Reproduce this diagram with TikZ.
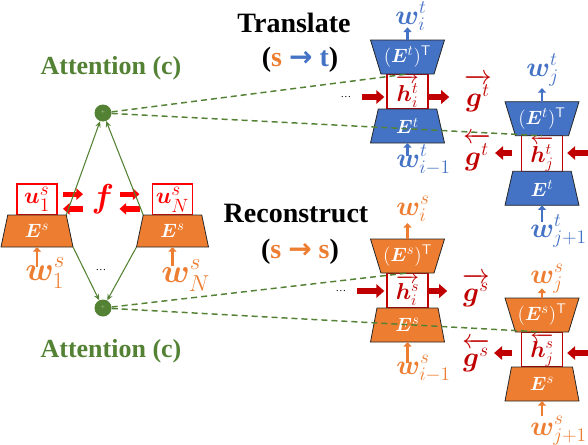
\documentclass[tikz,border=0pt]{standalone}
\usepackage{amsmath}
\usepackage{bm}
\usepackage{fontspec}
\setmainfont{Liberation Serif}
\newfontfamily\arrowfont{DejaVu Sans}
\usepackage{tikz}
\usetikzlibrary{arrows.meta,positioning,shapes.geometric}

\definecolor{tblue}{HTML}{4472C4}
\definecolor{sorange}{HTML}{ED7D31}
\definecolor{attgreen}{HTML}{548235}
\definecolor{hred}{HTML}{C00000}
\definecolor{ured}{HTML}{FF0000}

\newcommand{\setfs}[1]{\fontsize{#1}{#1}\selectfont}
\newcommand{\trlbl}[1]{\makebox[0pt]{#1}}

\begin{document}
\begin{tikzpicture}[x=0.75pt, y=-0.75pt,
    lbl/.style={inner sep=0pt},
    ttl/.style={inner sep=0pt, font=\setfs{21}\bfseries},
    att/.style={inner sep=0pt, font=\setfs{19.5}\bfseries, text=attgreen},
    wlbl/.style={inner sep=0pt, anchor=base west, font=\setfs{21}},
    glbl/.style={inner sep=0pt, text=hred, font=\setfs{22}},
    hbox/.style={draw=hred, line width=1.1pt, fill=white, minimum width=30.75pt,
      minimum height=26.25pt, inner sep=0pt, outer sep=0pt, text=hred, font=\setfs{17}},
    ubox/.style={draw=ured, line width=1.1pt, fill=white, minimum width=30pt,
      minimum height=23.25pt, inner sep=0pt, outer sep=0pt, text=ured, font=\setfs{19}},
    enc/.style={trapezium, trapezium stretches body, trapezium angle=64,
      minimum width=55.5pt, minimum height=25.5pt, draw=black!85, line width=0.6pt,
      inner sep=0pt, outer sep=0pt, text=white, font=\setfs{15}},
    dec/.style={enc, trapezium angle=116},
    encs/.style={enc, trapezium angle=63, minimum width=54pt, minimum height=24pt, fill=sorange},
    circ/.style={circle, fill=attgreen, minimum size=12.75pt, inner sep=0pt,
      text=attgreen!40!white, font=\tiny},
    attarr/.style={attgreen, line width=0.8pt, -{Stealth[length=4.5pt,width=4pt]}},
    attdash/.style={attgreen, line width=1.1pt, dash pattern=on 4.5pt off 3pt},
    darr/.style={hred, line width=5pt, -{Triangle[length=6pt,width=10pt]}},
    uarr/.style={ured, line width=4pt, -{Triangle[length=5pt,width=8.5pt]}},
    warr/.style={line width=2.2pt, -{Triangle[length=3.5pt,width=6pt]}}]
\useasboundingbox (0,0) rectangle (588,444);

% titles
\node[ttl, anchor=base] (trans) at (294,32) {Translate};
\node[ttl, anchor=base] (transdir) at (300,66) {(\textcolor{sorange}{s} {\arrowfont\bfseries\textcolor{tblue}{→}} \textcolor{tblue}{t})};
\node[ttl, anchor=base] (recon) at (296,222) {Reconstruct};
\node[ttl, anchor=base] (recondir) at (300,258) {(\textcolor{sorange}{s} {\arrowfont\bfseries\textcolor{sorange}{→}} \textcolor{sorange}{s})};
\node[att, anchor=base] (atttop) at (111,74) {Attention (c)};
\node[att, anchor=base] (attbot) at (111,357) {Attention (c)};

% source side
\node[ubox] (u1) at (37,199.5) {$\bm{u}^{s}_{1}$};
\node[encs, below=0pt of u1] (e1) {\trlbl{$\bm{E}^{s}$}};
\node[ubox] (uN) at (172.5,199.5) {$\bm{u}^{s}_{N}$};
\node[encs, below=0pt of uN] (eN) {\trlbl{$\bm{E}^{s}$}};
\node[lbl, text=ured, font=\setfs{23}] (f) at (103,199) {$\bm{f}$};
\node[wlbl, text=sorange, font=\setfs{23}] (w1) at (25,280) {$\bm{w}^{s}_{1}$};
\node[wlbl, text=sorange, font=\setfs{23}] (wN) at (161,282) {$\bm{w}^{s}_{N}$};
\node[lbl, font=\setfs{8}] (dl) at (101,270) {\ldots};
\node[circ] (c1) at (103,113) {+};
\node[circ] (c2) at (103,308) {+};

\draw[uarr] ([xshift=4.5pt,yshift=4pt]u1.east) -- ++(15pt,0);
\draw[uarr] ([xshift=19.5pt,yshift=-7pt]u1.east) -- ++(-15pt,0);
\draw[uarr] ([xshift=-24.75pt,yshift=4pt]uN.west) -- ++(15pt,0);
\draw[uarr] ([xshift=-9.75pt,yshift=-7pt]uN.west) -- ++(-15pt,0);

% translate decoder, step i
\node[hbox] (hit) at (407.5,91.5) {$\overrightarrow{\bm{h}^{t}_{i}}$};
\node[dec, fill=tblue, above=0pt of hit] (dit) {\trlbl{$(\bm{E}^{t})^{\mathsf{T}}$}};
\node[enc, fill=tblue, below=0pt of hit] (eit) {\trlbl{$\bm{E}^{t}$}};
\node[wlbl, text=tblue] (wit) at (395,24) {$\bm{w}^{t}_{i}$};
\node[wlbl, text=tblue] (wi1t) at (396,167) {$\bm{w}^{t}_{i-1}$};
\node[lbl, font=\setfs{8}] (dt) at (346,97) {\ldots};
\node[glbl] (gtr) at (478,93) {$\overrightarrow{\bm{g}^{t}}$};

% translate decoder, step j
\node[hbox] (hjt) at (542,153.5) {$\overleftarrow{\bm{h}^{t}_{j}}$};
\node[dec, fill=tblue, above=0pt of hjt] (djt) {\trlbl{$(\bm{E}^{t})^{\mathsf{T}}$}};
\node[enc, fill=tblue, below=0pt of hjt] (ejt) {\trlbl{$\bm{E}^{t}$}};
\node[wlbl, text=tblue] (wjt) at (526,76) {$\bm{w}^{t}_{j}$};
\node[wlbl, text=tblue] (wj1t) at (530,237) {$\bm{w}^{t}_{j+1}$};
\node[glbl] (gtl) at (477,152) {$\overleftarrow{\bm{g}^{t}}$};
\coordinate (injt) at (588,153);

% reconstruct decoder, step i
\node[hbox] (his) at (407.5,290.5) {$\overrightarrow{\bm{h}^{s}_{i}}$};
\node[dec, fill=sorange, above=0pt of his] (dis) {\trlbl{$(\bm{E}^{s})^{\mathsf{T}}$}};
\node[enc, fill=sorange, below=0pt of his] (eis) {\trlbl{$\bm{E}^{s}$}};
\node[wlbl, text=sorange] (wis) at (396,215) {$\bm{w}^{s}_{i}$};
\node[wlbl, text=sorange] (wi1s) at (396,374) {$\bm{w}^{s}_{i-1}$};
\node[lbl, font=\setfs{8}] (ds) at (341,291) {\ldots};
\node[glbl] (gsr) at (476,290) {$\overrightarrow{\bm{g}^{s}}$};

% reconstruct decoder, step j
\node[hbox] (hjs) at (542,349.5) {$\overleftarrow{\bm{h}^{s}_{j}}$};
\node[dec, fill=sorange, above=0pt of hjs] (djs) {\trlbl{$(\bm{E}^{s})^{\mathsf{T}}$}};
\node[enc, fill=sorange, below=0pt of hjs] (ejs) {\trlbl{$\bm{E}^{s}$}};
\node[wlbl, text=sorange] (wjs) at (530,283) {$\bm{w}^{s}_{j}$};
\node[wlbl, text=sorange] (wj1s) at (530,435) {$\bm{w}^{s}_{j+1}$};
\node[glbl] (gsl) at (476,355) {$\overleftarrow{\bm{g}^{s}}$};
\coordinate (injs) at (588,353);

% word arrows
\draw[warr, sorange] ([yshift=10pt]w1.base -| e1.south) -- (e1.south);
\draw[warr, sorange] ([yshift=12pt]wN.base -| eN.south) -- (eN.south);
\draw[warr, tblue] (dit.north) -- ([yshift=-2.5pt]wit.base -| dit.north);
\draw[warr, tblue] ([yshift=8pt]wi1t.base -| eit.south) -- (eit.south);
\draw[warr, tblue] (djt.north) -- ([yshift=-9pt]wjt.base -| djt.north);
\draw[warr, tblue] ([yshift=11pt]wj1t.base -| ejt.south) -- (ejt.south);
\draw[warr, sorange] (dis.north) -- ([yshift=-6pt]wis.base -| dis.north);
\draw[warr, sorange] ([yshift=8pt]wi1s.base -| eis.south) -- (eis.south);
\draw[warr, sorange] (djs.north) -- ([yshift=-4pt]wjs.base -| djs.north);
\draw[warr, sorange] ([yshift=14pt]wj1s.base -| ejs.south) -- (ejs.south);

% hidden state arrows
\draw[darr, shorten <=8pt, shorten >=2pt] (dt) -- (dt -| hit.west);
\draw[darr, shorten <=1pt, shorten >=11pt] (hit.east |- dt) -- (gtr.west |- dt);
\draw[darr, shorten >=3.5pt] (injt) -- (injt -| hjt.east);
\draw[darr, shorten <=7pt, shorten >=3pt] (hjt.west |- injt) -- (gtl.east |- injt);
\draw[darr, shorten <=8pt, shorten >=2pt] (ds) -- (ds -| his.west);
\draw[darr, shorten <=1pt, shorten >=11pt] (his.east |- ds) -- (gsr.west |- ds);
\draw[darr, shorten >=3.5pt] (injs) -- (injs -| hjs.east);
\draw[darr, shorten <=7pt, shorten >=3pt] (hjs.west |- injs) -- (gsl.east |- injs);

% attention
\draw[attarr] (e1.top right corner) -- (c1);
\draw[attarr] (eN.top left corner) -- (c1);
\draw[attarr] (e1.bottom right corner) -- (c2);
\draw[attarr] (eN.bottom left corner) -- (c2);
\draw[attdash] (c1) -- (hit.north);
\draw[attdash] (c1) -- (hjt.north);
\draw[attdash] (c2) -- (his.north);
\draw[attdash] (c2) -- (hjs.north);
\end{tikzpicture}
\end{document}
